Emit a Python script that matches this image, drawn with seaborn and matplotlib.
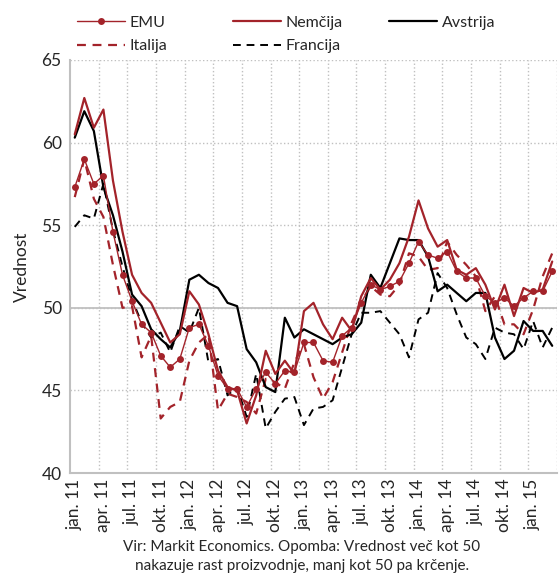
import numpy as np
import pandas as pd
import matplotlib.pyplot as plt
import seaborn as sns
from matplotlib.lines import Line2D

# Monthly PMI values, jan. 2011 - mar. 2015
tick_labels = ["jan. 11", "apr. 11", "jul. 11", "okt. 11",
               "jan. 12", "apr. 12", "jul. 12", "okt. 12",
               "jan. 13", "apr. 13", "jul. 13", "okt. 13",
               "jan. 14", "apr. 14", "jul. 14", "okt. 14",
               "jan. 15"]

emu = [57.3, 59.0, 57.5, 58.0, 54.6, 52.0, 50.4, 49.0, 48.5, 47.1, 46.4, 46.9,
       48.8, 49.0, 47.7, 45.9, 45.1, 45.1, 44.0, 45.1, 46.1, 45.4, 46.2, 46.1,
       47.9, 47.9, 46.8, 46.7, 48.3, 48.8, 50.3, 51.4, 51.1, 51.3, 51.6, 52.7,
       54.0, 53.2, 53.0, 53.4, 52.2, 51.8, 51.8, 50.7, 50.3, 50.6, 50.1, 50.6,
       51.0, 51.0, 52.2]

nemcija = [60.5, 62.7, 60.9, 62.0, 57.7, 54.6, 52.0, 50.9, 50.3, 49.1, 47.9, 48.4,
           51.0, 50.2, 48.4, 46.2, 45.2, 45.0, 43.0, 44.7, 47.4, 46.0, 46.8, 46.0,
           49.8, 50.3, 49.0, 48.1, 49.4, 48.6, 50.7, 51.8, 51.1, 51.7, 52.7, 54.3,
           56.5, 54.8, 53.7, 54.1, 52.3, 52.0, 52.4, 51.4, 49.9, 51.4, 49.5, 51.2,
           50.9, 51.1, 52.8]

avstrija = [60.3, 61.9, 60.7, 57.3, 55.6, 53.4, 50.8, 50.1, 48.7, 48.1, 47.6, 48.6,
            51.7, 52.0, 51.5, 51.2, 50.3, 50.1, 47.5, 46.7, 45.2, 44.9, 49.4, 48.2,
            48.7, 48.4, 48.1, 47.8, 48.2, 48.4, 49.1, 52.0, 51.2, 52.7, 54.2, 54.1,
            54.1, 53.1, 51.0, 51.4, 50.9, 50.4, 50.9, 50.9, 48.2, 46.9, 47.4, 49.2,
            48.6, 48.6, 47.7]

italija = [56.7, 59.0, 56.6, 55.5, 52.6, 50.0, 50.1, 47.0, 48.3, 43.3, 44.0, 44.3,
           46.8, 47.9, 48.4, 43.8, 44.8, 44.6, 44.3, 43.6, 45.7, 45.5, 45.1, 46.7,
           47.8, 45.8, 44.5, 45.5, 47.3, 49.1, 50.4, 51.3, 50.8, 50.7, 51.4, 53.3,
           53.1, 52.3, 52.4, 54.0, 53.2, 52.6, 51.9, 49.8, 50.7, 49.0, 49.0, 48.4,
           49.9, 51.9, 53.3]

francija = [54.9, 55.6, 55.4, 57.5, 54.7, 52.5, 50.5, 49.1, 48.2, 48.5, 47.3, 48.9,
            48.5, 50.0, 46.7, 46.9, 44.7, 45.2, 43.4, 46.0, 42.7, 43.7, 44.5, 44.6,
            42.9, 43.9, 44.0, 44.4, 46.4, 48.4, 49.7, 49.7, 49.8, 49.1, 48.4, 47.0,
            49.3, 49.7, 52.1, 51.2, 49.6, 48.2, 47.8, 46.9, 48.8, 48.5, 48.4, 47.5,
            49.2, 47.6, 48.8]

sns.set_style("white")
plt.rcParams["font.family"] = ["Lato", "DejaVu Sans"]
plt.rcParams["font.size"] = 11

red = "#A3232A"
grid_col = "#C0C0C0"

fig = plt.figure(figsize=(5.59, 5.73), dpi=100)
ax = fig.add_axes([0.1252, 0.1745, 0.8712, 0.7208])

x = np.arange(len(emu))

# draw order: back to front
sns.lineplot(x=x, y=francija, ax=ax, color="black", linewidth=1.4,
             linestyle=(0, (4, 3)))
sns.lineplot(x=x, y=italija, ax=ax, color=red, linewidth=1.6,
             linestyle=(0, (4, 3)))
sns.lineplot(x=x, y=avstrija, ax=ax, color="black", linewidth=1.6)
sns.lineplot(x=x, y=nemcija, ax=ax, color=red, linewidth=1.6)
sns.lineplot(x=x, y=emu, ax=ax, color=red, linewidth=1.0, marker="o",
             markersize=5, markeredgewidth=0)

ax.set_xlim(-0.5, len(emu) - 0.5)
ax.set_ylim(40, 65)
ax.set_yticks(range(40, 66, 5))
ax.set_xticks(x[::3])
ax.set_xticklabels(tick_labels, rotation=90)
ax.set_xticks(np.arange(2.5, len(emu), 3), minor=True)
ax.tick_params(axis="both", which="both", length=0, labelsize=12.5)
ax.tick_params(axis="x", pad=4)
ax.tick_params(axis="y", pad=6)

ax.grid(False)
ax.grid(axis="y", which="major", color=grid_col, linestyle=":", linewidth=1.0)
ax.grid(axis="x", which="minor", color=grid_col, linestyle=":", linewidth=1.0)
ax.axhline(50, color=grid_col, linewidth=1.3, zorder=1)

for side in ["top", "right"]:
    ax.spines[side].set_visible(False)
for side in ["left", "bottom"]:
    ax.spines[side].set_color(grid_col)
    ax.spines[side].set_linewidth(1.5)

ax.set_xlabel("")
ax.set_ylabel("Vrednost", fontsize=12.5, labelpad=8)

# legend: three columns placed like the original
h_emu = Line2D([], [], color=red, linewidth=1.0, marker="o", markersize=5,
               markeredgewidth=0)
h_it = Line2D([], [], color=red, linewidth=1.6, linestyle=(0, (4, 3)))
h_de = Line2D([], [], color=red, linewidth=1.6)
h_fr = Line2D([], [], color="black", linewidth=1.4, linestyle=(0, (4, 3)))
h_at = Line2D([], [], color="black", linewidth=1.6)

cols = [([h_emu, h_it], ["EMU", "Italija"], 0.112),
        ([h_de, h_fr], ["Nemčija", "Francija"], 0.391),
        ([h_at], ["Avstrija"], 0.670)]
for handles, labels, xpos in cols:
    fig.legend(handles, labels, loc="upper left", bbox_to_anchor=(xpos, 0.998),
               frameon=False, fontsize=11.5, handlelength=3.0, handletextpad=0.3,
               labelspacing=0.6)

fig.text(0.54, 0.0, "Vir: Markit Economics. Opomba: Vrednost več kot 50\n"
         "nakazuje rast proizvodnje, manj kot 50 pa krčenje.",
         ha="center", va="bottom", fontsize=11, linespacing=1.45)

fig.savefig("out.png", dpi=100)
